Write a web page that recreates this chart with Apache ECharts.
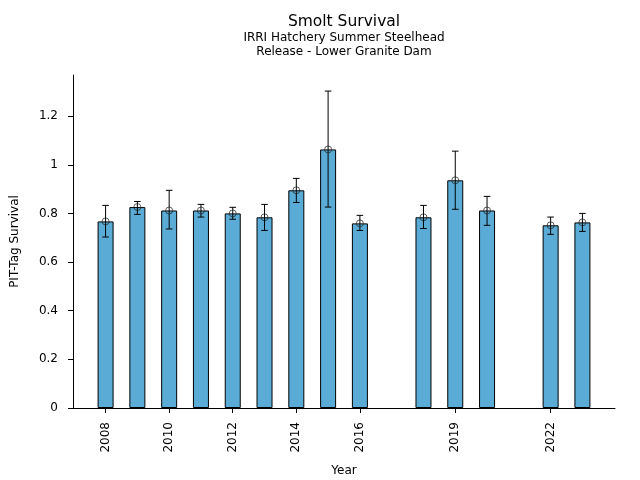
<!DOCTYPE html>
<html>
<head>
<meta charset="utf-8">
<script src="https://cdn.jsdelivr.net/npm/echarts@6/dist/echarts.min.js"></script>
<style>html,body{margin:0;padding:0;background:#fff}#c{width:640px;height:480px}</style>
</head>
<body>
<div id="c"></div>
<script>
const years    = [2008, 2009, 2010, 2011, 2012, 2013, 2014, 2015, 2016, 2018, 2019, 2020, 2022, 2023];
const survival = [0.767, 0.826, 0.812, 0.812, 0.800, 0.784, 0.895, 1.063, 0.759, 0.784, 0.936, 0.812, 0.751, 0.763];
const lower    = [0.703, 0.796, 0.736, 0.785, 0.776, 0.730, 0.845, 0.826, 0.730, 0.738, 0.817, 0.751, 0.714, 0.726];
const upper    = [0.833, 0.849, 0.895, 0.837, 0.825, 0.837, 0.944, 1.303, 0.792, 0.833, 1.056, 0.870, 0.785, 0.800];
const xTicks   = [2008, 2010, 2012, 2014, 2016, 2019, 2022];
const yTicks   = [0, 0.2, 0.4, 0.6, 0.8, 1.0, 1.2];

const FONT = 'DejaVu Sans';
const chart = echarts.init(document.getElementById('c'), null, {renderer: 'canvas'});

const barData = years.map((y, i) => [y, survival[i]]);
const errData = years.map((y, i) => [y, lower[i], upper[i]]);

chart.setOption({
  animation: false,
  backgroundColor: '#fff',
  textStyle: {fontFamily: FONT},
  graphic: [
    {type: 'text', x: 344, y: 22, style: {text: 'Smolt Survival', font: '15.5px "DejaVu Sans"', fill: '#000', align: 'center', verticalAlign: 'middle'}},
    {type: 'text', x: 344, y: 38, style: {text: 'IRRI Hatchery Summer Steelhead', font: '12px "DejaVu Sans"', fill: '#000', align: 'center', verticalAlign: 'middle'}},
    {type: 'text', x: 344, y: 52, style: {text: 'Release - Lower Granite Dam', font: '12px "DejaVu Sans"', fill: '#000', align: 'center', verticalAlign: 'middle'}}
  ],
  grid: {left: 73, right: 25, top: 75, bottom: 72, containLabel: false, outerBoundsMode: 'none'},
  xAxis: {
    type: 'value',
    min: 2006.975, max: 2024.025,
    name: 'Year', nameLocation: 'middle', nameGap: 57,
    nameTextStyle: {fontFamily: FONT, fontSize: 12, color: '#000'},
    axisLine: {show: true, lineStyle: {color: '#000', width: 1}},
    axisTick: {show: true, length: 5, lineStyle: {color: '#000'}, customValues: xTicks},
    axisLabel: {rotate: 90, margin: 14, fontFamily: FONT, fontSize: 12, color: '#000', customValues: xTicks, formatter: v => String(v)},
    splitLine: {show: false}
  },
  yAxis: {
    type: 'value',
    min: 0, max: 1.369,
    name: 'PIT-Tag Survival', nameLocation: 'middle', nameGap: 52,
    nameTextStyle: {fontFamily: FONT, fontSize: 12, color: '#000'},
    axisLine: {show: true, lineStyle: {color: '#000', width: 1}},
    axisTick: {show: true, length: 5, lineStyle: {color: '#000'}, customValues: yTicks},
    axisLabel: {margin: 15, fontFamily: FONT, fontSize: 12, color: '#000', customValues: yTicks,
      formatter: v => String(Math.round(v * 10) / 10)},
    splitLine: {show: false}
  },
  series: [
    {
      type: 'bar',
      data: barData,
      barWidth: 16,
      itemStyle: {color: '#5aacd6', borderColor: '#000', borderWidth: 1},
      z: 2
    },
    {
      type: 'custom',
      data: errData,
      z: 3,
      renderItem: function (params, api) {
        const x = api.value(0);
        const lo = api.coord([x, api.value(1)]);
        const hi = api.coord([x, api.value(2)]);
        const hw = 3.3;
        const st = {stroke: '#000', lineWidth: 1};
        return {
          type: 'group',
          children: [
            {type: 'line', shape: {x1: lo[0], y1: lo[1], x2: hi[0], y2: hi[1]}, style: st},
            {type: 'line', shape: {x1: lo[0] - hw, y1: lo[1], x2: lo[0] + hw, y2: lo[1]}, style: st},
            {type: 'line', shape: {x1: hi[0] - hw, y1: hi[1], x2: hi[0] + hw, y2: hi[1]}, style: st}
          ]
        };
      }
    },
    {
      type: 'scatter',
      data: barData,
      symbol: 'circle',
      symbolSize: 7,
      itemStyle: {color: 'rgba(0,0,0,0)', borderColor: '#222', borderWidth: 0.9},
      z: 4
    }
  ]
});
</script>
</body>
</html>
